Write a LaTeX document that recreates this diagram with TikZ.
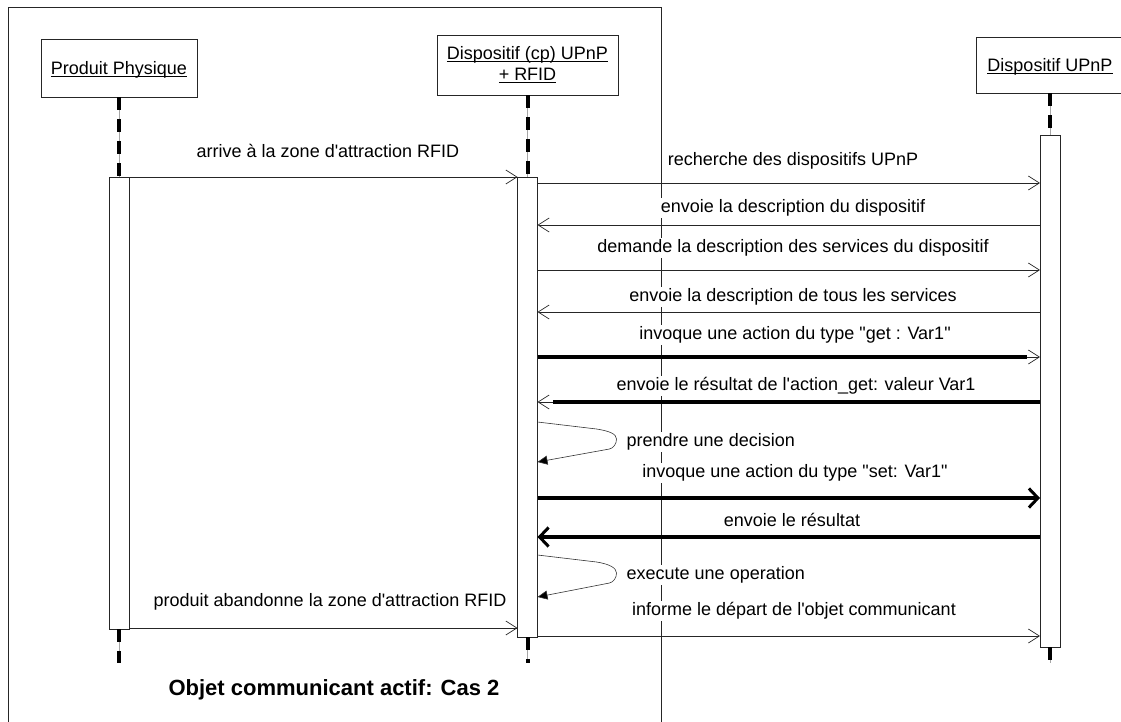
\documentclass[tikz,border=0pt]{standalone}
\usepackage{fontspec}
\newfontfamily\lsans{Liberation Sans}
\usetikzlibrary{arrows.meta,calc}
\newcommand\myul[1]{\setbox0\hbox{#1}\rlap{\copy0}\rule[-2.2pt]{\wd0}{0.9pt}}
\begin{document}
\begin{tikzpicture}[x=1pt,y=-1pt,
  every node/.style={font=\lsans\fontsize{18}{21}\selectfont},
  ln/.style={draw=black!85, line width=0.8pt},
  objbox/.style={ln, fill=white, inner sep=0pt, align=center},
  bar/.style={ln, fill=white, minimum width=20pt, inner sep=0pt, outer sep=0pt},
  lifethin/.style={draw=black!35, line width=0.6pt},
  lifedash/.style={draw=black, line width=4pt, dash pattern=on 13pt off 9pt},
  msg/.style={ln, -{Straight Barb[length=11pt,width=14pt,line width=0.7pt]}},
  thickline/.style={draw=black, line width=4.5pt},
  bigmsg/.style={draw=black, line width=3.5pt, -{Straight Barb[length=9pt,width=19pt,line width=3pt]}},
  selfmsg/.style={draw=black!80, line width=0.6pt, -{Triangle[length=10pt,width=9pt,fill=black]}},
  lbl/.style={fill=white, inner sep=1.5pt, text height=13pt, text depth=4pt},
  slbl/.style={lbl, anchor=west},
  titlestyle/.style={font=\lsans\bfseries\fontsize{22}{26}\selectfont}
]
\path[use as bounding box] (0,0) rectangle (1121,722);
\clip (0,0) rectangle (1121,722);

% frame
\draw[ln] (8,722) -- (8,7) -- (661,7) -- (661,722);

% objects
\node[objbox, minimum width=156pt, minimum height=58pt, text height=13pt, text depth=0pt] (P) at (119,68) {\myul{Produit Physique}};
\node[objbox, minimum width=181pt, minimum height=60pt] (D) at (527.5,65) {\myul{Dispositif (cp) UPnP}\\\myul{+ RFID}};
\node[objbox, minimum width=148pt, minimum height=56pt, text height=14pt, text depth=0pt] (U) at (1050,65) {\myul{Dispositif UPnP}};

% activation bars
\node[bar, minimum height=452pt] (barL) at (119,403) {};
\node[bar, minimum height=460pt] (barM) at (527.5,407) {};
\node[bar, minimum height=512pt] (barU) at (1050,391) {};

% lifelines
\coordinate (endy) at (0,663);
\coordinate (eL) at (barL.south |- endy);
\coordinate (eM) at (barM.south |- endy);
\coordinate (eU) at (barU.south |- endy);
\foreach \a/\b in {P.south/barL.north, D.south/barM.north, U.south/barU.north, barL.south/eL, barM.south/eM, barU.south/eU}{
  \draw[lifethin] (\a) -- (\b);
  \draw[lifedash] (\a) -- (\b);
}

% message rows
\foreach \n/\y in {m1/177, m2/183, m3/225, m4/270, m5/312, m6/357, m7/402, s1/422, t1/462, m9/498, m10/537, s2/555, t2/597, m12/628, m13/636}{
  \coordinate (\n) at (0,\y);
}

% labels (drawn first so arrows stay on top)
\node[lbl] (l1) at (328,153) {arrive à la zone d'attraction RFID};
\node[lbl] (l2) at (793,161) {recherche des dispositifs UPnP};
\node[lbl] (l3) at (793,208) {envoie la description du dispositif};
\node[lbl] (l4) at (793,248) {demande la description des services du dispositif};
\node[lbl] (l5) at (793,297) {envoie la description de tous les services};
\node[lbl] (l6) at (795,335) {invoque une action du type "get : Var1"};
\node[lbl] (l7) at (796,386) {envoie le résultat de l'action\_get: valeur Var1};
\node[slbl] (l8) at (625,442) {prendre une decision};
\node[lbl] (l9) at (795,473) {invoque une action du type "set: Var1"};
\node[lbl] (l10) at (792,522) {envoie le résultat};
\node[slbl] (l11) at (625,575) {execute une operation};
\node[lbl] (l12) at (330,602) {produit abandonne la zone d'attraction RFID};
\node[lbl] (l13) at (794,611) {informe le départ de l'objet communicant};

% messages
\draw[msg] (barL.east |- m1) -- (barM.west |- m1);
\draw[msg] (barM.east |- m2) -- (barU.west |- m2);
\draw[msg] (barU.west |- m3) -- (barM.east |- m3);
\draw[msg] (barM.east |- m4) -- (barU.west |- m4);
\draw[msg] (barU.west |- m5) -- (barM.east |- m5);
\draw[msg] (barM.east |- m6) -- (barU.west |- m6);
\draw[thickline] (barM.east |- m6) -- ($(barU.west |- m6)+(-13,0)$);
\draw[msg] (barU.west |- m7) -- (barM.east |- m7);
\draw[thickline] (barU.west |- m7) -- ($(barM.east |- m7)+(15,0)$);

\coordinate (S1) at (barM.east |- s1);
\coordinate (E1) at (barM.east |- t1);
\draw[selfmsg] (S1) -- ($(S1)+(59,7)$)
  .. controls ($(S1)+(72,9)$) and ($(S1)+(79,12)$) .. ($(S1)+(79,17)$)
  .. controls ($(S1)+(79,22)$) and ($(S1)+(76,26)$) .. ($(S1)+(72,27)$) -- (E1);

\draw[bigmsg] (barM.east |- m9) -- (barU.west |- m9);
\draw[bigmsg] (barU.west |- m10) -- (barM.east |- m10);

\coordinate (S2) at (barM.east |- s2);
\coordinate (E2) at (barM.east |- t2);
\draw[selfmsg] (S2) -- ($(S2)+(59,7)$)
  .. controls ($(S2)+(72,9)$) and ($(S2)+(79,13)$) .. ($(S2)+(79,18)$)
  .. controls ($(S2)+(79,23)$) and ($(S2)+(76,27)$) .. ($(S2)+(72,28)$) -- (E2);

\draw[msg] (barL.east |- m12) -- (barM.west |- m12);
\draw[msg] (barM.east |- m13) -- (barU.west |- m13);

% title
\node[titlestyle] (title) at (334,690) {Objet communicant actif: Cas 2};
\end{tikzpicture}
\end{document}
